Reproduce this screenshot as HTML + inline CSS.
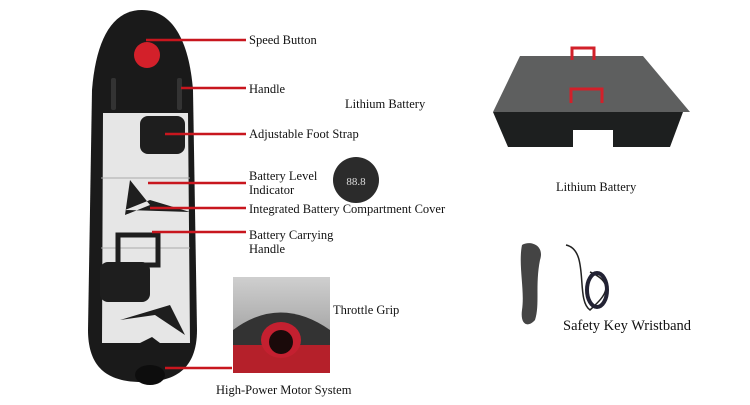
<!DOCTYPE html>
<html><head><style>
body{margin:0;width:750px;height:400px;background:#fff;overflow:hidden}
svg text{font-family:"Liberation Serif",serif;fill:#111}
</style></head><body>
<svg width="750" height="400" viewBox="0 0 750 400">
<defs>
<linearGradient id="tg" x1="0" y1="0" x2="0" y2="1"><stop offset="0" stop-color="#cfcfcf"/><stop offset="1" stop-color="#8a8a8a"/></linearGradient>
</defs>
<!-- board -->
<path d="M142 10 C112 10 96 40 92 90 L88 330 C88 370 110 382 142 382 C174 382 197 370 197 330 L193 90 C189 40 172 10 142 10Z" fill="#1a1a1a"/>
<path d="M103 113 L188 113 L190 343 L160 343 L152 337 L140 343 L102 343Z" fill="#e6e6e6"/>
<line x1="101" y1="178" x2="190" y2="178" stroke="#aaa"/>
<line x1="101" y1="248" x2="190" y2="248" stroke="#aaa"/>
<circle cx="147" cy="55" r="13" fill="#d3202a"/>
<rect x="111" y="78" width="5" height="32" rx="2" fill="#333"/>
<rect x="177" y="78" width="5" height="32" rx="2" fill="#333"/>
<rect x="140" y="116" width="45" height="38" rx="8" fill="#1e1e1e"/>
<rect x="100" y="262" width="50" height="40" rx="8" fill="#1e1e1e"/>
<path d="M125 210 L190 212 L150 200 Z M130 180 L150 205 L125 215Z" fill="#1e1e1e"/>
<path d="M118 235 h40 v30 h-40z" fill="none" stroke="#1e1e1e" stroke-width="5"/>
<path d="M120 320 L170 305 L185 335 L155 315Z" fill="#1e1e1e"/>
<ellipse cx="150" cy="375" rx="15" ry="10" fill="#0d0d0d"/>
<!-- leader lines -->
<g stroke="#c8161e" stroke-width="2.5">
<line x1="146" y1="40" x2="246" y2="40"/>
<line x1="181" y1="88" x2="246" y2="88"/>
<line x1="165" y1="134" x2="246" y2="134"/>
<line x1="148" y1="183" x2="246" y2="183"/>
<line x1="150" y1="208" x2="246" y2="208"/>
<line x1="152" y1="232" x2="246" y2="232"/>
<line x1="165" y1="368" x2="232" y2="368"/>
</g>
<g font-size="12.5">
<text x="249" y="44">Speed Button</text>
<text x="249" y="93">Handle</text>
<text x="249" y="138">Adjustable Foot Strap</text>
<text x="249" y="180">Battery Level</text>
<text x="249" y="194">Indicator</text>
<text x="249" y="213">Integrated Battery Compartment Cover</text>
<text x="249" y="239">Battery Carrying</text>
<text x="249" y="253">Handle</text>
<text x="333" y="314">Throttle Grip</text>
<text x="216" y="394">High-Power Motor System</text>
<text x="345" y="108">Lithium Battery</text>
<text x="556" y="191">Lithium Battery</text>
</g>
<!-- indicator -->
<circle cx="356" cy="180" r="23" fill="#2b2b2b"/>
<text x="356" y="185" font-size="11" text-anchor="middle" style="fill:#ddd">88.8</text>
<!-- throttle photo -->
<rect x="233" y="277" width="97" height="96" fill="url(#tg)"/>
<path d="M233 330 Q280 295 330 330 L330 373 L233 373Z" fill="#333"/>
<rect x="233" y="345" width="97" height="28" fill="#b5202a"/>
<ellipse cx="281" cy="340" rx="20" ry="18" fill="#c42030"/>
<ellipse cx="281" cy="342" rx="12" ry="12" fill="#1a0a0a"/>
<!-- battery -->
<path d="M493 112 L683 112 L670 147 L613 147 L613 130 L573 130 L573 147 L508 147Z" fill="#1d1f1f"/>
<path d="M520 56 L643 56 L690 112 L493 112Z" fill="#5e5f5f"/>
<path d="M572 60 v-12 h22 v12" fill="none" stroke="#d2202a" stroke-width="3"/>
<path d="M571 103 v-14 h31 v14" fill="none" stroke="#d2202a" stroke-width="3"/>
<!-- wristband -->
<path d="M522 245 C530 240 545 245 540 260 C535 285 540 305 535 320 C528 328 520 325 522 310 C525 290 518 265 522 245Z" fill="#444"/>
<path d="M566 245 C590 250 575 300 590 310 C600 300 620 285 590 272" fill="none" stroke="#222" stroke-width="1.5"/>
<ellipse cx="597" cy="290" rx="10" ry="17" fill="none" stroke="#223" stroke-width="4"/>
<text x="563" y="330" font-size="14.5">Safety Key Wristband</text>
</svg>
</body></html>
